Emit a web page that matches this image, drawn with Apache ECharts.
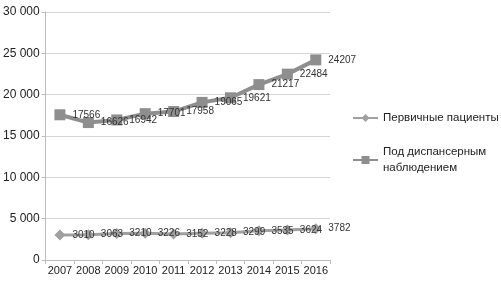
<!DOCTYPE html>
<html>
<head>
<meta charset="utf-8">
<script src="https://cdn.jsdelivr.net/npm/echarts@6/dist/echarts.min.js"></script>
<style>
  html, body { margin: 0; padding: 0; background: #fff; }
  #chart { width: 501px; height: 287px; }
</style>
</head>
<body>
<div id="chart"></div>
<script>
const years = ['2007', '2008', '2009', '2010', '2011', '2012', '2013', '2014', '2015', '2016']
const primary = [3010, 3063, 3210, 3226, 3152, 3228, 3299, 3535, 3624, 3782]
const dispensary = [17566, 16626, 16942, 17701, 17958, 19065, 19621, 21217, 22484, 24207]
const seriesNames = ['Первичные пациенты', 'Под диспансерным\nнаблюдением']

const chart = echarts.init(document.getElementById('chart'))

const valueLabel = {
  show: true,
  position: 'right',
  distance: 7,
  fontFamily: 'Liberation Sans',
  fontSize: 10,
  color: '#333'
}

chart.setOption({
  animation: false,
  textStyle: { fontFamily: 'Liberation Sans' },
  grid: { left: 44, right: 171, top: 12, bottom: 27 },
  legend: {
    orient: 'vertical',
    left: 347,
    top: 105,
    itemGap: 18,
    itemWidth: 25,
    itemHeight: 10,
    textStyle: { fontSize: 11.5, color: '#222', lineHeight: 16 },
    data: seriesNames
  },
  xAxis: {
    type: 'category',
    data: years,
    boundaryGap: true,
    axisLine: { lineStyle: { color: '#bdbdbd' } },
    axisTick: { show: true, length: 4, lineStyle: { color: '#bdbdbd' } },
    axisLabel: { interval: 0, fontSize: 11, color: '#222', margin: 5 }
  },
  yAxis: {
    type: 'value',
    min: 0,
    max: 30000,
    interval: 5000,
    axisLine: { show: true, lineStyle: { color: '#bdbdbd' } },
    axisTick: { show: true, length: 4, lineStyle: { color: '#bdbdbd' } },
    splitLine: { lineStyle: { color: '#d6d6d6' } },
    axisLabel: {
      fontSize: 12,
      color: '#222',
      margin: 6,
      formatter: v => String(v).replace(/\B(?=(\d{3})+(?!\d))/g, ' ')
    }
  },
  series: [
    {
      name: seriesNames[0],
      type: 'line',
      data: primary,
      symbol: 'diamond',
      symbolSize: 11,
      lineStyle: { width: 3, color: '#a0a0a0' },
      itemStyle: { color: '#a0a0a0' },
      label: valueLabel
    },
    {
      name: seriesNames[1],
      type: 'line',
      data: dispensary,
      symbol: 'rect',
      symbolSize: 11,
      lineStyle: { width: 4, color: '#8e8e8e' },
      itemStyle: { color: '#8e8e8e' },
      label: valueLabel
    }
  ]
})
</script>
</body>
</html>
